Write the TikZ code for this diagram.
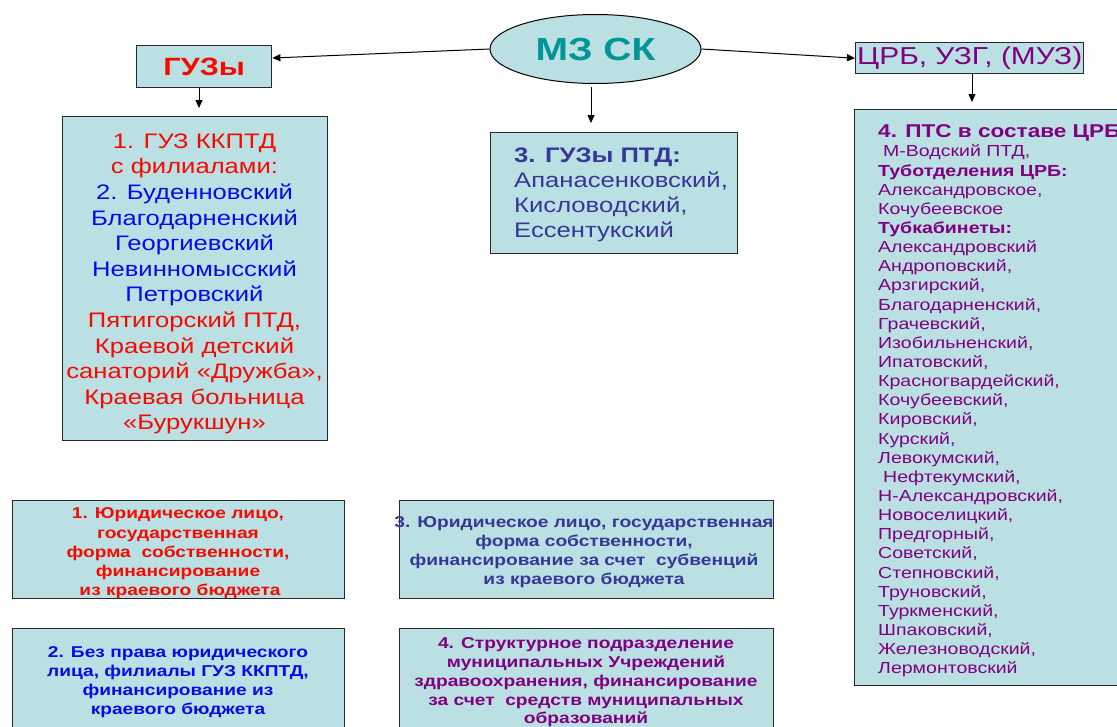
\documentclass[tikz,border=0pt]{standalone}
\usepackage{fontspec}
\setmainfont{Liberation Sans}[FakeStretch=1.22]
\usetikzlibrary{arrows.meta,calc,shapes.geometric}
\definecolor{boxfill}{RGB}{186,224,227}
\definecolor{boxline}{RGB}{40,40,40}
\definecolor{tealtx}{RGB}{0,150,150}
\definecolor{redtx}{RGB}{245,10,0}
\definecolor{bluetx}{RGB}{10,10,230}
\definecolor{navytx}{RGB}{55,55,150}
\definecolor{purptx}{RGB}{128,0,128}
\newcommand{\fsz}[2]{\fontsize{#1}{#2}\selectfont}
\begin{document}
\begin{tikzpicture}[x=1pt,y=-1pt,
  boxst/.style={draw=boxline,line width=1.4pt,fill=boxfill,rectangle,inner sep=0pt,anchor=north west},
  arr/.style={-{Triangle[width=7pt,length=8pt]},line width=1pt,draw=black},
  txt/.style={inner sep=0pt,align=center}]
\useasboundingbox[fill=white] (0,0) rectangle (1117,726);

% top row
\node[ellipse,draw=black,line width=1pt,fill=boxfill,minimum width=211pt,minimum height=69pt,inner sep=0pt,
      font=\fsz{32}{36}\bfseries,text=tealtx] (mz) at (595.5,49) {МЗ СК};
\node[boxst,minimum width=135pt,minimum height=42pt,font=\fsz{25}{30}\bfseries,text=redtx] (guz) at (136,45) {ГУЗы};
\node[boxst,minimum width=228pt,minimum height=31pt,font=\fsz{24.5}{28},text=purptx] (crb) at (855,42) {ЦРБ, УЗГ, (МУЗ)};

% boxes
\node[boxst,minimum width=265pt,minimum height=324pt] (bigl) at (62,116) {};
\node[boxst,minimum width=247pt,minimum height=121pt] (mid) at (490,132) {};
\node[boxst,minimum width=285pt,minimum height=576pt] (rgt) at (854,109) {};
\node[boxst,minimum width=332pt,minimum height=98pt] (b1) at (12,500) {};
\node[boxst,minimum width=332pt,minimum height=104pt] (b2) at (12,628) {};
\node[boxst,minimum width=374pt,minimum height=98pt] (b3) at (399,500) {};
\node[boxst,minimum width=374pt,minimum height=104pt] (b4) at (399,628) {};

% texts
\node[txt,font=\fsz{21}{25.6}] (biglt) at (194.5,284) {%
\textcolor{redtx}{1. ГУЗ ККПТД}\\
\textcolor{redtx}{с филиалами:}\\
\textcolor{bluetx}{2. Буденновский}\\
\textcolor{bluetx}{Благодарненский}\\
\textcolor{bluetx}{Георгиевский}\\
\textcolor{bluetx}{Невинномысский}\\
\textcolor{bluetx}{Петровский}\\
\textcolor{redtx}{Пятигорский ПТД,}\\
\textcolor{redtx}{Краевой детский}\\
\textcolor{redtx}{санаторий «Дружба»,}\\
\textcolor{redtx}{Краевая больница}\\
\textcolor{redtx}{«Бурукшун»}};

\node[txt,align=left,anchor=west,font=\fsz{21}{25},text=navytx] (midt) at (514,194.5) {%
\textbf{3. ГУЗы ПТД:}\\
Апанасенковский,\\
Кисловодский,\\
Ессентукский};

\node[txt,align=left,anchor=west,font=\fsz{16}{19.14},text=purptx] (rgtt) at (878,401) {%
{\fsz{18.5}{19.14}\bfseries 4. ПТС в составе ЦРБ}\\
\hspace*{5pt}М-Водский ПТД,\\
\textbf{Туботделения ЦРБ:}\\
Александровское,\\
Кочубеевское\\
\textbf{Тубкабинеты:}\\
Александровский\\
Андроповский,\\
Арзгирский,\\
Благодарненский,\\
Грачевский,\\
Изобильненский,\\
Ипатовский,\\
Красногвардейский,\\
Кочубеевский,\\
Кировский,\\
Курский,\\
Левокумский,\\
\hspace*{5pt}Нефтекумский,\\
Н-Александровский,\\
Новоселицкий,\\
Предгорный,\\
Советский,\\
Степновский,\\
Труновский,\\
Туркменский,\\
Шпаковский,\\
Железноводский,\\
Лермонтовский};

\node[txt,font=\fsz{15.7}{19.3}\bfseries,text=redtx] (b1t) at (178,553.5) {%
1. Юридическое лицо,\\
государственная\\
форма\ \ собственности,\\
финансирование\\
\hspace*{4pt}из краевого бюджета};

\node[txt,font=\fsz{15.7}{19}\bfseries,text=bluetx] (b2t) at (178,682.5) {%
2. Без права юридического\\
лица, филиалы ГУЗ ККПТД,\\
финансирование из\\
краевого бюджета};

\node[txt,font=\fsz{15.7}{19}\bfseries,text=navytx] (b3t) at (584,552.5) {%
3. Юридическое лицо, государственная\\
форма собственности,\\
финансирование за счет\ \ субвенций\\
из краевого бюджета};

\node[txt,font=\fsz{15.7}{18.75}\bfseries,text=purptx] (b4t) at (586,682.5) {%
4. Структурное подразделение\\
муниципальных Учреждений\\
здравоохранения, финансирование\\
за счет\ \ средств муниципальных\\
образований};

% connectors
\coordinate (t1) at (199,108);
\coordinate (s2) at (591,87);
\coordinate (t2) at (591,123);
\coordinate (t3) at (972,102);
\draw[arr] (mz.west) -- ($(guz.north east)!0.3!(guz.south east)$);
\draw[arr] (mz.east) -- (crb.west);
\draw[arr] (t1 |- guz.south) -- (t1);
\draw[arr] (s2) -- (t2);
\draw[arr] (t3 |- crb.south) -- (t3);
\end{tikzpicture}
\end{document}
